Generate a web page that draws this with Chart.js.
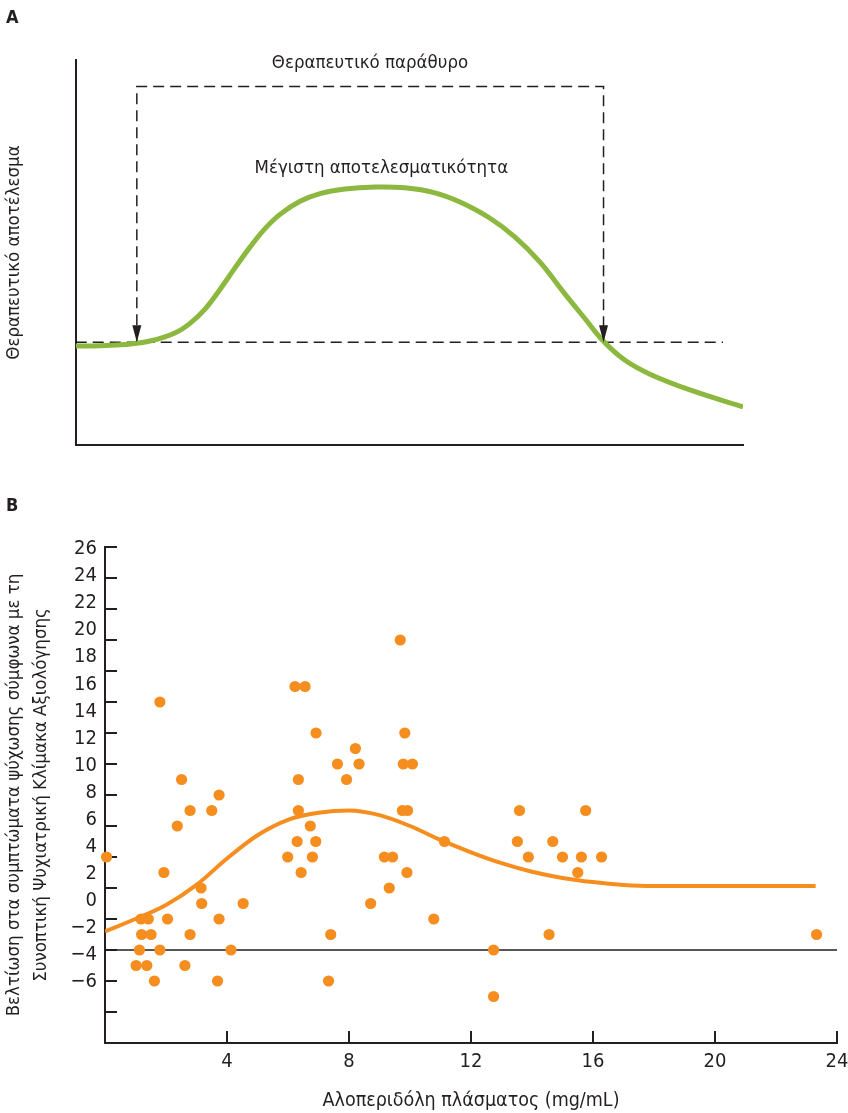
<!DOCTYPE html>
<html><head><meta charset="utf-8">
<script src="https://cdn.jsdelivr.net/npm/chart.js@4.4.1/dist/chart.umd.min.js"></script>
<style>
html,body{margin:0;padding:0;background:#fff;}
#wrap{position:relative;width:848px;height:1113px;overflow:hidden;background:#fff;}
canvas{position:absolute;left:0;top:0;}
.panel{position:absolute;font-family:'Liberation Sans Narrow','DejaVu Sans Condensed',sans-serif;font-weight:bold;font-size:18px;color:#231F20;line-height:1;}
</style></head><body>
<div id="wrap">
<canvas id="cA" width="848" height="1113"></canvas>
<canvas id="cB" width="848" height="1113"></canvas>
<div class="panel" style="left:6px;top:8px">A</div>
<div class="panel" style="left:6px;top:496px">B</div>
</div>
<script>
// ---------- Panel A (conceptual curve) ----------
const curveAX = [0, 3.64, 7.39, 11.13, 14.87, 17.13, 19.38, 21.62, 23.87, 26.12, 28.37, 30.62, 33.62, 36.61, 40.36, 44.85, 49.35, 53.84, 57.59, 62.09, 65.84, 69.58, 73.33, 76.33, 79.17, 82.32, 86.06, 92.06, 100];
const curveAY = [25.7, 25.8, 26.1, 27.0, 29.1, 31.6, 35.3, 40.4, 46.0, 51.4, 56.2, 59.9, 63.3, 65.3, 66.5, 67.0, 66.8, 65.5, 63.1, 58.9, 54.0, 47.5, 39.2, 32.8, 26.8, 22.0, 18.4, 14.3, 9.9];
const thresholdA = 26.7;
const windowA = [9.16, 79.1];
const windowTopA = 93.1;
const thresholdEndA = 97;
const labelsA = ['Θεραπευτικό παράθυρο', 'Μέγιστη αποτελεσματικότητα'];
const labelAX = [44.1, 45.8];
const labelAY = [99.2, 71.9];
const yTitleA = 'Θεραπευτικό αποτέλεσμα';

// ---------- Panel B (scatter + fitted curve) ----------
const scatterX = [0.05, 1.80, 2.51, 3.74, 2.79, 3.50, 2.37, 1.93, 5.99, 3.15, 3.17, 4.53, 1.18, 1.42, 2.05, 3.74, 1.20, 1.51, 2.79, 1.13, 1.80, 4.13, 1.02, 1.37, 2.62, 1.62, 3.69,
  9.68, 6.23, 6.56, 6.92, 9.83, 8.21, 7.62, 8.33, 9.78, 10.08, 6.34, 7.92, 6.34, 9.75, 9.92, 6.73, 6.30, 6.91, 6.80, 6.43, 9.16, 9.43, 9.90, 9.32, 8.71, 10.78, 7.40, 7.33, 11.13,
  13.59, 15.76, 13.52, 14.68, 13.88, 15.0, 15.62, 16.28, 15.5, 14.56, 12.74, 12.74, 23.33];
const scatterY = [6, 16, 11, 10, 9, 9, 8, 5, 6, 4, 3, 3, 2, 2, 2, 2, 1, 1, 1, 0, 0, 0, -1, -1, -1, -2, -2,
  20, 17, 17, 14, 14, 13, 12, 12, 12, 12, 11, 11, 9, 9, 9, 8, 7, 7, 6, 5, 6, 6, 5, 4, 3, 2, 1, -2, 7,
  9, 9, 7, 7, 6, 6, 6, 6, 5, 1, 0, -3, 1];
const fitX = [0, 1, 2, 3, 4, 5, 6, 7, 8, 9, 10, 11, 12, 13, 14, 15, 16, 17, 18, 20, 22, 23.3];
const fitY = [1.2, 2.0, 2.9, 4.2, 5.9, 7.4, 8.4, 8.85, 9.0, 8.7, 8.0, 7.1, 6.3, 5.6, 5.05, 4.65, 4.38, 4.2, 4.13, 4.13, 4.13, 4.13];
const baselineY = 0;
const xTicksB = [4, 8, 12, 16, 20, 24];
const yTickLabelsB = [26, 24, 22, 20, 18, 16, 14, 12, 10, 8, 6, 4, 2, 0, -2, -4, -6];
const xTitleB = 'Αλοπεριδόλη πλάσματος (mg/mL)';
const yTitleB = ['Βελτίωση στα συμπτώματα ψύχωσης σύμφωνα με τη', 'Συνοπτική Ψυχιατρική Κλίμακα Αξιολόγησης'];

const TEXT = '#231F20';
const ORANGE = '#F68E1F';
const GREEN = '#8DB83F';
const FAM = "'Liberation Sans Narrow','DejaVu Sans Condensed','Liberation Sans',sans-serif";
Chart.defaults.font.family = FAM;
Chart.defaults.color = TEXT;

const pts = (xs, ys) => xs.map((x, i) => ({x, y: ys[i]}));
const noPadX = s => { s.paddingLeft = 0; s.paddingRight = 0; };

// ---- Chart A ----
const annotA = {
  id: 'annotA',
  afterDatasetsDraw(chart) {
    const {ctx, scales: {x, y}} = chart;
    ctx.save();
    ctx.fillStyle = TEXT;
    windowA.forEach(v => {
      const px = x.getPixelForValue(v), py = y.getPixelForValue(thresholdA);
      ctx.beginPath();
      ctx.moveTo(px, py);
      ctx.lineTo(px - 4.5, py - 17);
      ctx.lineTo(px + 4.5, py - 17);
      ctx.closePath();
      ctx.fill();
    });
    ctx.font = "18.5px " + FAM;
    ctx.textAlign = 'center';
    ctx.textBaseline = 'middle';
    labelsA.forEach((t, i) => ctx.fillText(t, x.getPixelForValue(labelAX[i]), y.getPixelForValue(labelAY[i])));
    ctx.restore();
  }
};

new Chart(document.getElementById('cA'), {
  type: 'scatter',
  data: {datasets: [
    {type: 'line', data: pts(curveAX, curveAY), borderColor: GREEN, borderWidth: 5, pointRadius: 0, tension: 0.4, fill: false},
    {type: 'line', data: [{x: windowA[0], y: thresholdA}, {x: windowA[0], y: windowTopA}, {x: windowA[1], y: windowTopA}, {x: windowA[1], y: thresholdA}],
     borderColor: TEXT, borderWidth: 1.5, borderDash: [11, 6], pointRadius: 0, tension: 0, fill: false},
    {type: 'line', data: [{x: 0, y: thresholdA}, {x: thresholdEndA, y: thresholdA}],
     borderColor: TEXT, borderWidth: 1.5, borderDash: [11, 6], pointRadius: 0, fill: false}
  ]},
  options: {
    responsive: false, animation: false, events: [],
    layout: {padding: {top: 60, right: 105, left: 0, bottom: 668}},
    plugins: {legend: {display: false}, tooltip: {enabled: false}},
    scales: {
      x: {type: 'linear', min: 0, max: 100, ticks: {display: false}, grid: {display: false, drawTicks: false},
          border: {display: true, color: TEXT, width: 2}, afterFit: s => { s.height = 0; noPadX(s); }},
      y: {type: 'linear', min: 0, max: 100, ticks: {display: false}, grid: {display: false, drawTicks: false},
          border: {display: true, color: TEXT, width: 2},
          title: {display: true, text: yTitleA, font: {size: 18.5}, color: TEXT, padding: {top: 3}},
          afterFit: s => { s.width = 75.7; }}
    }
  },
  plugins: [annotA]
});

// ---- Chart B ----
const yLabTop = 26.148, yLabBottom = -10.51;
new Chart(document.getElementById('cB'), {
  type: 'scatter',
  data: {datasets: [
    {data: pts(scatterX, scatterY), backgroundColor: ORANGE, borderWidth: 0, pointRadius: 5.6, pointHoverRadius: 5.6, clip: false},
    {type: 'line', data: pts(fitX, fitY), borderColor: ORANGE, borderWidth: 4, pointRadius: 0, cubicInterpolationMode: 'monotone', fill: false},
    {type: 'line', data: [{x: 0, y: baselineY}, {x: xTicksB[xTicksB.length - 1], y: baselineY}], borderColor: TEXT, borderWidth: 1.5, pointRadius: 0, fill: false}
  ]},
  options: {
    responsive: false, animation: false, events: [],
    layout: {padding: {top: 547, right: 11, left: 0, bottom: 0}},
    plugins: {legend: {display: false}, tooltip: {enabled: false}},
    scales: {
      x: {type: 'linear', min: 0, max: 24,
          ticks: {stepSize: 4, autoSkip: false, maxRotation: 0, padding: 19, font: {size: 20}, color: TEXT,
                  callback: v => xTicksB.includes(v) ? String(v) : ''},
          grid: {display: true, drawOnChartArea: false, drawTicks: true, tickLength: -12, color: TEXT, lineWidth: 2},
          border: {display: true, color: TEXT, width: 2},
          title: {display: true, text: xTitleB, font: {size: 19.5}, color: TEXT, padding: {top: 0, bottom: 0}},
          afterFit: s => { s.height = 70; noPadX(s); }},
      y: {type: 'linear', position: 'left', weight: 0, min: -6, max: 26,
          ticks: {stepSize: 2, display: false},
          grid: {display: true, drawOnChartArea: false, drawTicks: true, tickLength: -12, color: TEXT, lineWidth: 2},
          border: {display: true, color: TEXT, width: 2},
          afterFit: s => { s.width = 0; }},
      yLab: {type: 'linear', position: 'left', weight: 1, min: yLabBottom, max: yLabTop,
          ticks: {stepSize: 2, includeBounds: false, autoSkip: false, padding: 8, font: {size: 20}, color: TEXT,
                  callback: v => yTickLabelsB.includes(v) ? (v < 0 ? '\u2212' + Math.abs(v) : String(v)) : ''},
          grid: {display: false, drawTicks: false},
          border: {display: false},
          title: {display: true, text: yTitleB, font: {size: 18.5, lineHeight: 1.5}, color: TEXT, padding: {top: 0}},
          afterFit: s => { s.width = 105; }}
    }
  }
});
</script>
</body></html>
